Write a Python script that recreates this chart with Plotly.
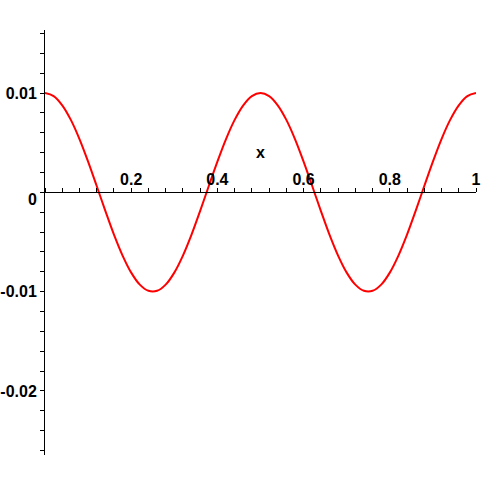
import plotly.graph_objects as go

# sampled curve readings (y in units of 0.01)
x_vals = [0.00, 0.02, 0.04, 0.06, 0.08, 0.10, 0.12, 0.14, 0.16, 0.18,
          0.20, 0.22, 0.24, 0.26, 0.28, 0.30, 0.32, 0.34, 0.36, 0.38,
          0.40, 0.42, 0.44, 0.46, 0.48, 0.50, 0.52, 0.54, 0.56, 0.58,
          0.60, 0.62, 0.64, 0.66, 0.68, 0.70, 0.72, 0.74, 0.76, 0.78,
          0.80, 0.82, 0.84, 0.86, 0.88, 0.90, 0.92, 0.94, 0.96, 0.98, 1.00]
y_hundredths = [1.000, 0.969, 0.876, 0.729, 0.536, 0.309, 0.063, -0.187, -0.426, -0.637,
                -0.809, -0.930, -0.992, -0.992, -0.930, -0.809, -0.637, -0.426, -0.187, 0.063,
                0.309, 0.536, 0.729, 0.876, 0.969, 1.000, 0.969, 0.876, 0.729, 0.536,
                0.309, 0.063, -0.187, -0.426, -0.637, -0.809, -0.930, -0.992, -0.992, -0.930,
                -0.809, -0.637, -0.426, -0.187, 0.063, 0.309, 0.536, 0.729, 0.876, 0.969, 1.000]
y_vals = [v * 0.01 for v in y_hundredths]

x_ticks = [0.2, 0.4, 0.6, 0.8, 1.0]
x_ticklabels = ["0.2", "0.4", "0.6", "0.8", "1"]
y_ticks = [0.01, -0.01, -0.02]
y_ticklabels = ["0.01", "-0.01", "-0.02"]

y_min, y_max = -0.026455, 0.016344
x_axis_pos = (0 - y_min) / (y_max - y_min)

font = dict(family="Liberation Sans, Arial, sans-serif", size=16, color="black", weight="bold")

fig = go.Figure()
fig.add_trace(go.Scatter(x=x_vals, y=y_vals, mode="lines",
                         line=dict(color="#ff0000", width=2, shape="spline"),
                         hoverinfo="skip", showlegend=False))

fig.update_layout(
    width=484, height=484,
    margin=dict(l=45, r=8, t=30, b=29),
    paper_bgcolor="white", plot_bgcolor="white",
    showlegend=False,
    xaxis=dict(range=[0, 1], anchor="free", position=x_axis_pos, side="top",
               automargin=False,
               showline=True, linecolor="black", linewidth=1,
               showgrid=False, zeroline=False,
               tickvals=x_ticks, ticktext=x_ticklabels, ticks="outside",
               ticklen=4, tickcolor="black", tickwidth=1, tickfont=font,
               ticklabelstandoff=-3,
               minor=dict(dtick=0.04, tick0=0, ticks="outside", ticklen=4,
                          tickcolor="black", tickwidth=1, showgrid=False)),
    yaxis=dict(range=[y_min, y_max], automargin=False,
               showline=True, linecolor="black", linewidth=1,
               showgrid=False, zeroline=False,
               tickvals=y_ticks, ticktext=y_ticklabels, ticks="outside",
               ticklen=4, tickcolor="black", tickwidth=1, tickfont=font,
               minor=dict(dtick=0.002, tick0=0, ticks="outside", ticklen=4,
                          tickcolor="black", tickwidth=1, showgrid=False)),
    annotations=[
        dict(text="0", x=0, y=0, xref="x", yref="y", xanchor="right", yanchor="middle",
             xshift=-6, yshift=-7, showarrow=False, font=font),
        dict(text="x", x=0.499, y=0.00403, xref="x", yref="y", xanchor="center",
             yanchor="middle", showarrow=False, font=font),
    ],
)

fig.write_html("out.html", config={"displayModeBar": False},
               post_script="document.body.style.margin='0';document.body.style.overflow='hidden';")
